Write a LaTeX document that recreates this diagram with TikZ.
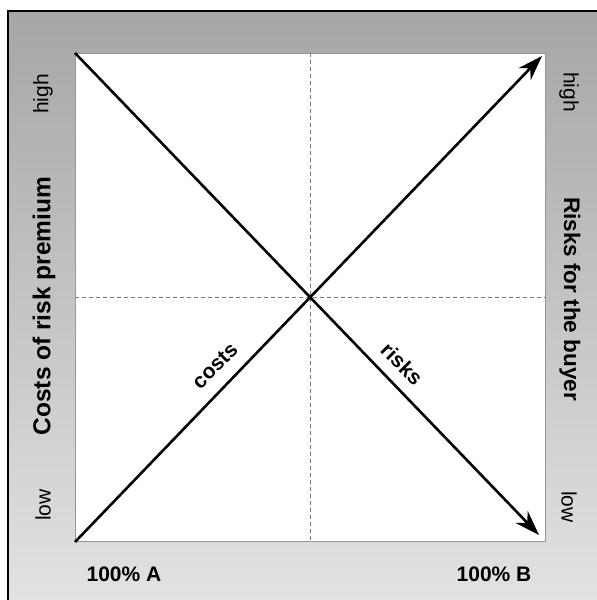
\documentclass[tikz,border=0pt]{standalone}
\usepackage{fontspec}
\setmainfont{Liberation Sans}
\usetikzlibrary{arrows.meta}
\definecolor{topgray}{RGB}{166,166,166}
\definecolor{botgray}{RGB}{226,226,226}
\definecolor{framegray}{RGB}{150,150,150}
\definecolor{dashgray}{RGB}{120,120,120}
\begin{document}
\begin{tikzpicture}[x=1pt,y=-1pt,
  mainline/.style={line width=2.6pt, black},
  arrowline/.style={mainline, -{Stealth[length=25pt,width=17pt,inset=8pt]}},
  guide/.style={dashgray, line width=0.9pt, dash pattern=on 4pt off 3pt},
  axislabel/.style={font=\fontsize{21}{24}\selectfont\bfseries, inner sep=0pt},
  levellabel/.style={font=\fontsize{21}{24}\selectfont, inner sep=0pt},
  linelabel/.style={font=\fontsize{21}{24}\selectfont\bfseries, inner sep=0pt}]
\useasboundingbox (0,0) rectangle (597,600);
\shade[top color=topgray, bottom color=botgray] (8,11) rectangle (597,600);
\draw[line width=2pt] (8,600) -- (8,11) -- (597,11);
\node[draw=framegray, fill=white, line width=1pt, inner sep=0pt,
      minimum width=470pt, minimum height=488pt, anchor=north west] (plot) at (75,53) {};
\draw[guide] (plot.north) -- (plot.south);
\draw[guide] (plot.west) -- (plot.east);
\coordinate (tipTR) at (542,56);
\coordinate (tipBR) at (539,535);
\draw[arrowline] (plot.south west) -- (tipTR);
\draw[arrowline] (plot.north west) -- (tipBR);
\node[linelabel, rotate=45] (costs) at (215,366) {costs};
\node[linelabel, rotate=-45] (risks) at (402,364) {risks};
\node[levellabel, rotate=90] (highL) at (43,94) {high};
\node[levellabel, rotate=90] (lowL) at (43,505) {low};
\node[levellabel, rotate=-90] (highR) at (569,92) {high};
\node[levellabel, rotate=-90] (lowR) at (569,507) {low};
\node[axislabel, font=\fontsize{24.5}{28}\selectfont\bfseries, rotate=90] (titleL) at (44,306) {Costs of risk premium};
\node[axislabel, font=\fontsize{22.5}{26}\selectfont\bfseries, rotate=-90] (titleR) at (570,299) {Risks for the buyer};
\node[axislabel] (A) at (124,574) {100\% A};
\node[axislabel] (B) at (494,574) {100\% B};
\end{tikzpicture}
\end{document}
